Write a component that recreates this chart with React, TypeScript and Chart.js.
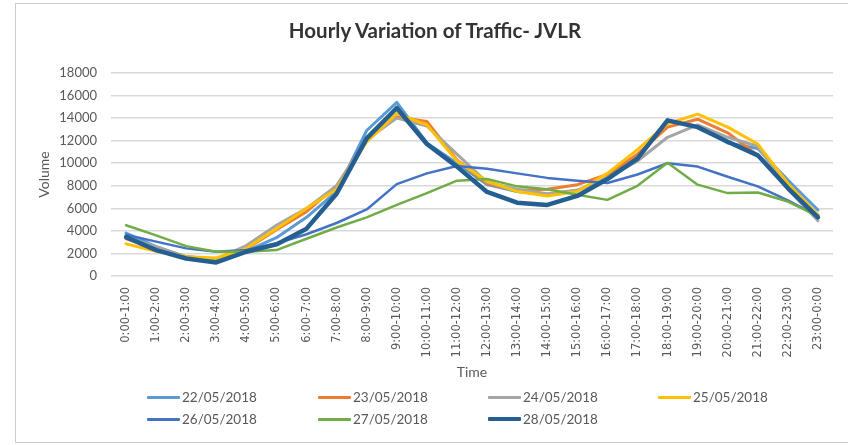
import React, { useEffect, useRef } from "react";
import { Chart, registerables } from "chart.js";

Chart.register(...registerables);

const categories = [
  "0:00-1:00", "1:00-2:00", "2:00-3:00", "3:00-4:00", "4:00-5:00", "5:00-6:00",
  "6:00-7:00", "7:00-8:00", "8:00-9:00", "9:00-10:00", "10:00-11:00", "11:00-12:00",
  "12:00-13:00", "13:00-14:00", "14:00-15:00", "15:00-16:00", "16:00-17:00", "17:00-18:00",
  "18:00-19:00", "19:00-20:00", "20:00-21:00", "21:00-22:00", "22:00-23:00", "23:00-0:00",
];

const seriesNames = ["22/05/2018", "23/05/2018", "24/05/2018", "25/05/2018", "26/05/2018", "27/05/2018", "28/05/2018"];

const s22 = [3800, 2600, 1700, 1400, 2200, 3400, 5200, 7500, 12900, 15400, 11800, 10000, 8100, 7500, 7200, 7600, 8700, 10500, 13700, 13300, 11800, 11300, 8500, 5850];
const s23 = [3300, 2500, 1700, 1500, 2400, 4100, 5700, 8000, 12100, 14100, 13700, 10300, 8200, 7600, 7700, 8100, 9000, 10800, 13200, 13900, 12700, 10700, 7900, 5400];
const s24 = [3400, 2600, 1700, 1500, 2700, 4500, 6000, 8000, 12100, 14000, 13300, 10800, 8300, 7700, 7300, 7600, 8700, 10200, 12300, 13400, 12300, 11500, 7700, 4900];
const s25 = [2850, 2200, 1700, 1600, 2450, 4200, 6000, 7700, 11900, 14400, 13400, 10200, 8400, 7500, 7100, 7500, 9100, 11200, 13500, 14350, 13200, 11700, 8200, 5400];
const s26 = [3650, 3050, 2450, 2150, 2300, 2900, 3700, 4700, 5900, 8150, 9100, 9750, 9500, 9100, 8700, 8450, 8250, 9000, 10000, 9700, 8800, 7950, 6700, 5300];
const s27 = [4500, 3600, 2650, 2150, 2150, 2300, 3300, 4300, 5200, 6300, 7350, 8450, 8600, 7950, 7700, 7200, 6750, 8000, 10050, 8100, 7350, 7400, 6600, 5300];
const s28 = [3450, 2300, 1550, 1200, 2150, 2800, 4200, 7300, 12200, 14900, 11700, 9700, 7450, 6500, 6300, 7100, 8600, 10400, 13800, 13200, 11900, 10700, 7800, 5200];

const seriesValues = [s22, s23, s24, s25, s26, s27, s28];
const seriesColors = ["#5B9BD5", "#ED7D31", "#A5A5A5", "#FFC000", "#4472C4", "#70AD47", "#255E91"];
const seriesWidths = [3, 3, 3, 3, 2.5, 2.5, 4.5];

const yMin = 0;
const yMax = 18000;
const yStep = 2000;

const FONT = "Lato, 'Open Sans', sans-serif";

export default function App() {
  const canvasRef = useRef<HTMLCanvasElement | null>(null);

  useEffect(() => {
    if (!canvasRef.current) return;
    const n = seriesValues.length;
    const chart = new Chart(canvasRef.current, {
      type: "line",
      data: {
        labels: categories,
        datasets: seriesValues.map((vals, i) => ({
          label: seriesNames[i],
          data: vals,
          borderColor: seriesColors[i],
          backgroundColor: seriesColors[i],
          borderWidth: seriesWidths[i],
          pointRadius: 0,
          tension: 0,
          fill: false,
          order: n - 1 - i,
          borderJoinStyle: "round" as const,
          borderCapStyle: "round" as const,
        })),
      },
      options: {
        animation: false,
        responsive: false,
        maintainAspectRatio: false,
        layout: { padding: { left: 10, right: 15, top: 73, bottom: 63 } },
        plugins: {
          legend: { display: false },
          title: { display: false },
          tooltip: { enabled: false },
        },
        scales: {
          x: {
            type: "category",
            offset: true,
            grid: { display: false, drawTicks: true, tickLength: 8 },
            border: { display: false },
            ticks: {
              autoSkip: false,
              minRotation: 90,
              maxRotation: 90,
              padding: 3,
              color: "#595959",
              font: { family: "'DejaVu Sans', sans-serif", size: 11.5 },
            },
            title: {
              display: true,
              text: "Time",
              color: "#595959",
              padding: { top: 0, bottom: 1 },
              font: { family: FONT, size: 14 },
            },
            afterFit: (scale: any) => {
              scale.height = 106;
            },
          },
          y: {
            min: yMin,
            max: yMax,
            grid: { color: "#d9d9d9", lineWidth: 1.5, drawTicks: false },
            border: { display: false },
            ticks: {
              stepSize: yStep,
              padding: 14,
              color: "#595959",
              font: { family: FONT, size: 13 },
              callback: (v: any) => String(v),
            },
            title: {
              display: true,
              text: "Volume",
              color: "#595959",
              padding: { top: 26, bottom: 0 },
              font: { family: FONT, size: 14 },
            },
            afterFit: (scale: any) => {
              scale.width = 101;
            },
          },
        },
      },
    });
    return () => chart.destroy();
  }, []);

  const colX = [147, 318, 488, 658];
  const rowY = [397, 419];

  return (
    <div style={{ position: "fixed", left: 0, top: 0, width: 848, height: 445, background: "#fff", overflow: "hidden" }}>
      <div
        style={{
          position: "absolute",
          left: 15,
          top: 3,
          width: 850,
          height: 438,
          border: "1px solid #cccccc",
        }}
      />
      <canvas ref={canvasRef} width={848} height={445} style={{ position: "absolute", left: 0, top: 0 }} />
      <div
        style={{
          position: "absolute",
          left: 0,
          width: 870,
          top: 17,
          textAlign: "center",
          fontFamily: FONT,
          fontWeight: 700,
          fontSize: 20.5,
          lineHeight: "26px",
          color: "#333333",
        }}
      >
        Hourly Variation of Traffic- JVLR
      </div>
      {seriesNames.map((name, i) => {
        const x = colX[i % 4];
        const y = rowY[Math.floor(i / 4)];
        const h = i === 6 ? 4 : 3;
        return (
          <div key={name}>
            <div
              style={{
                position: "absolute",
                left: x,
                top: y - h / 2,
                width: 33,
                height: h,
                background: seriesColors[i],
                borderRadius: 1,
              }}
            />
            <div
              style={{
                position: "absolute",
                left: x + 35,
                top: y - 9,
                height: 18,
                lineHeight: "18px",
                fontFamily: FONT,
                fontSize: 13.5,
                color: "#595959",
                whiteSpace: "nowrap",
              }}
            >
              {name}
            </div>
          </div>
        );
      })}
    </div>
  );
}
